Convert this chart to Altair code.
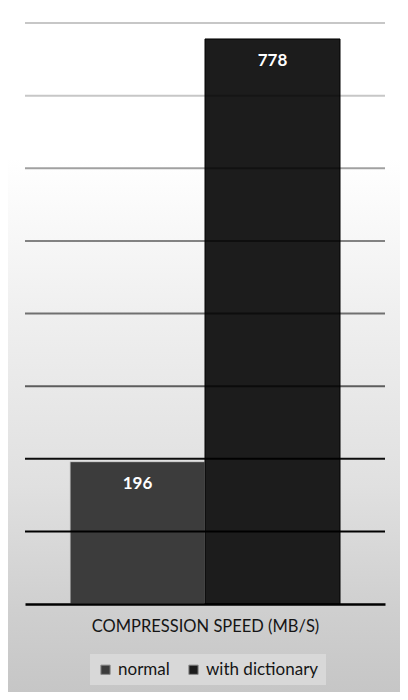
import altair as alt
import pandas as pd

series = ["normal", "with dictionary"]
speeds = [196, 778]
grid_values = [100, 200, 300, 400, 500, 600, 700, 800]
bar_colors = ["#3c3c3c", "#1c1c1c"]
axis_title = "COMPRESSION SPEED (MB/S)"

df = pd.DataFrame({"series": series, "speed": speeds})
grid = pd.DataFrame({"v": grid_values})
bg = pd.DataFrame({"k": [0]})

FONT = "Lato"

x_enc = alt.X(
    "series:N",
    scale=alt.Scale(domain=series, paddingInner=0, paddingOuter=1 / 3),
    axis=alt.Axis(
        labels=False, ticks=False, grid=False,
        domainColor="#000000", domainWidth=2.5, zindex=1,
        title=axis_title, titleFont=FONT, titleFontSize=16.5,
        titleFontWeight="normal", titleColor="#151515", titlePadding=14,
    ),
)
y_scale = alt.Scale(domain=[0, 800], nice=False)

background = alt.Chart(bg).mark_rect(
    fill=alt.Gradient(
        gradient="linear",
        stops=[
            alt.GradientStop(offset=0, color="#ffffff"),
            alt.GradientStop(offset=0.22, color="#ffffff"),
            alt.GradientStop(offset=0.45, color="#efefef"),
            alt.GradientStop(offset=0.7, color="#e0e0e0"),
            alt.GradientStop(offset=0.88, color="#cfcfcf"),
            alt.GradientStop(offset=1, color="#c6c6c6"),
        ],
        x1=0, x2=0, y1=0, y2=1,
    )
).encode(
    x=alt.value(-17), x2=alt.value(375), y=alt.value(-15), y2=alt.value(669)
)

bars = alt.Chart(df).mark_bar(strokeWidth=1).encode(
    x=x_enc,
    y=alt.Y("speed:Q", scale=y_scale, axis=None),
    color=alt.Color(
        "series:N",
        scale=alt.Scale(domain=series, range=bar_colors),
        legend=alt.Legend(
            title=None, orient="none", legendX=65, legendY=631,
            direction="horizontal", symbolType="square", symbolSize=85,
            symbolStrokeWidth=1, symbolStrokeColor="#888888",
            labelFont=FONT, labelFontSize=17, labelColor="#151515",
            labelOffset=4, columnPadding=15, fillColor="#d8d8d8", padding=7,
            symbolOpacity=1,
        ),
    ),
    stroke=alt.condition(
        alt.datum.series == "normal", alt.value("#cfcfcf"), alt.value("#000000")
    ),
)

rules = alt.Chart(grid).mark_rule(color="#000000", strokeWidth=2).encode(
    y=alt.Y("v:Q", scale=y_scale, axis=None),
    opacity=alt.Opacity(
        "v:Q",
        scale=alt.Scale(
            domain=grid_values,
            range=[1, 0.95, 0.6, 0.53, 0.47, 0.37, 0.22, 0.22],
        ),
        legend=None,
    ),
)

labels = alt.Chart(df).mark_text(
    color="white", font=FONT, fontSize=17, fontWeight="bold",
    baseline="middle", dy=22,
).encode(
    x=alt.X("series:N", scale=alt.Scale(domain=series, paddingInner=0, paddingOuter=1 / 3)),
    y=alt.Y("speed:Q", scale=y_scale),
    text="speed:Q",
)

chart = alt.layer(background, bars, rules, labels).properties(
    width=360,
    height=581,
    autosize=alt.AutoSizeParams(type="none"),
    padding={"left": 17, "top": 15, "right": 15, "bottom": 88},
    background="white",
).configure_view(stroke=None)

chart.save("out.html", embed_options={"renderer": "svg", "actions": False})
